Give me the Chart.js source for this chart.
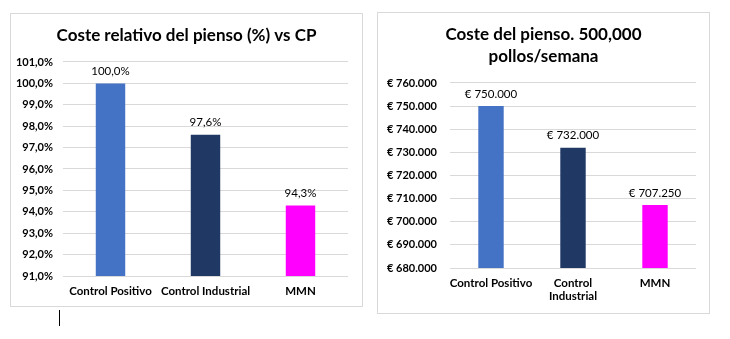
<!DOCTYPE html>
<html>
<head>
<meta charset="utf-8">
<script src="https://cdn.jsdelivr.net/npm/chart.js@4/dist/chart.umd.min.js"></script>
<style>
  body { margin: 0; background: #fff; width: 730px; height: 339px; position: relative; overflow: hidden; }
  .box { position: absolute; border: 1px solid #d9d9d9; background: #fff; }
  #boxLeft { left: 10px; top: 13px; width: 351px; height: 292px; }
  #boxRight { left: 377px; top: 12px; width: 331px; height: 300px; }
  .cursor { position: absolute; left: 59px; top: 310px; width: 1px; height: 16px; background: #000; }
</style>
</head>
<body>
<div class="box" id="boxLeft"><canvas id="relCost" width="351" height="292"></canvas></div>
<div class="box" id="boxRight"><canvas id="absCost" width="331" height="300"></canvas></div>
<div class="cursor"></div>
<script>
var categories = ['Control Positivo', 'Control Industrial', 'MMN'];
var categoriesWrapped = ['Control Positivo', ['Control', 'Industrial'], 'MMN'];
var relativeCost = [100.0, 97.6, 94.3];
var feedCost = [750000, 732000, 707250];
var barColors = ['#4472C4', '#203864', '#FF00FF'];

Chart.defaults.font.family = 'Lato';
Chart.defaults.color = '#000';

function pct(v) {
    return v.toFixed(1).replace('.', ',') + '%';
}
function euro(v) {
    return '€ ' + String(Math.round(v)).replace(/\B(?=(\d{3})+(?!\d))/g, '.');
}

// draws the value above each bar
var valueLabels = {
    id: 'valueLabels',
    afterDatasetsDraw: function (chart, args, opts) {
        var ctx = chart.ctx;
        var meta = chart.getDatasetMeta(0);
        var data = chart.data.datasets[0].data;
        ctx.save();
        ctx.font = '11.5px Lato';
        ctx.fillStyle = '#000';
        ctx.textAlign = 'center';
        ctx.textBaseline = 'middle';
        meta.data.forEach(function (bar, i) {
            ctx.fillText(opts.format(data[i]), bar.x, bar.y - 12);
        });
        ctx.restore();
    }
};

function makeChart(id, labels, values, title, yMin, yMax, step, fmt, yWidth, yPad, rightPad, titlePad, xHeight) {
    return new Chart(document.getElementById(id), {
        type: 'bar',
        plugins: [valueLabels],
        data: {
            labels: labels,
            datasets: [{
                data: values,
                backgroundColor: barColors,
                barPercentage: 0.31,
                categoryPercentage: 1,
            }]
        },
        options: {
            responsive: false,
            animation: false,
            plugins: {
                legend: { display: false },
                tooltip: { enabled: false },
                title: {
                    display: true,
                    text: title,
                    color: '#000',
                    font: { size: 17, weight: 'bold', lineHeight: 1.294 },
                    padding: titlePad,
                },
                valueLabels: { format: fmt },
            },
            scales: {
                x: {
                    grid: { display: false, drawTicks: false },
                    border: { display: false },
                    afterFit: function (scale) { scale.height = xHeight; },
                    ticks: { font: { size: 11.5, weight: 'bold', lineHeight: 1.2 }, padding: 8, maxRotation: 0, autoSkip: false },
                },
                y: {
                    min: yMin,
                    max: yMax,
                    grid: { color: '#d9d9d9', drawTicks: false },
                    border: { display: false },
                    afterFit: function (scale) { scale.width = yWidth; },
                    ticks: {
                        stepSize: step,
                        padding: yPad,
                        font: { size: 11, weight: 'bold' },
                        callback: function (v) { return fmt(v); },
                    },
                },
                // empty right margin, so the title stays centred on the box
                pad: {
                    position: 'right',
                    grid: { display: false, drawTicks: false },
                    border: { display: false },
                    ticks: { display: false },
                    afterFit: function (scale) { scale.width = rightPad; },
                },
            },
        },
    });
}

makeChart('relCost', categories, relativeCost, 'Coste relativo del pienso (%) vs CP',
    91, 101, 1, pct, 52, 10, 14, { top: 11, bottom: 15 }, 30);
makeChart('absCost', categoriesWrapped, feedCost, ['Coste del pienso. 500,000', 'pollos/semana'],
    680000, 760000, 10000, euro, 72, 13, 13, { top: 11, bottom: 15 }, 45);
</script>
</body>
</html>
